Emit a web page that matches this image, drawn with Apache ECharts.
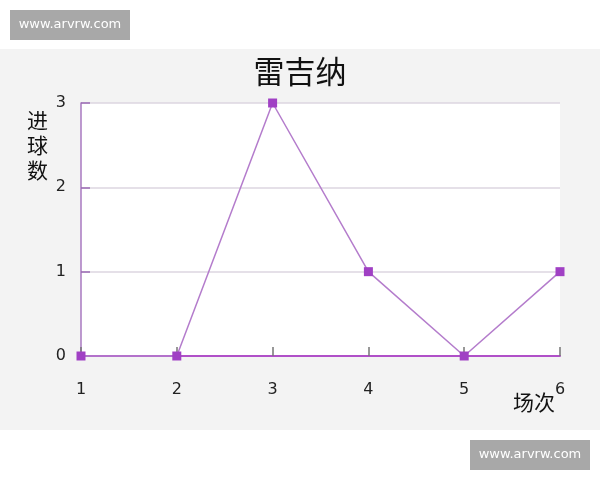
<!DOCTYPE html>
<html>
<head>
<meta charset="utf-8">
<script src="https://cdn.jsdelivr.net/npm/echarts@6/dist/echarts.min.js"></script>
<style>
html,body{margin:0;padding:0;background:#fff;}
#c{width:600px;height:480px;}
</style>
</head>
<body>
<div id="c"></div>
<script>
const titleText = '雷吉纳';
const xName = '场次';
const yName = '进\n球\n数';
const matches = [1, 2, 3, 4, 5, 6];
const goals = [0, 0, 3, 1, 0, 1];
const watermark = 'www.arvrw.com';

const chart = echarts.init(document.getElementById('c'));
const font = 'DejaVu Sans, Liberation Sans, sans-serif';
const cjk = '"Noto Sans CJK SC", sans-serif';

chart.setOption({
  backgroundColor: '#ffffff',
  animation: false,
  graphic: [
    { type: 'rect', z: -10, shape: { x: 0, y: 49, width: 600, height: 381 }, style: { fill: '#f3f3f3' } },
    { type: 'rect', shape: { x: 10, y: 10, width: 120, height: 30 }, style: { fill: '#a8a8a8' } },
    { type: 'text', x: 70, y: 25, style: { text: watermark, fill: '#ffffff', font: '13px "DejaVu Sans", sans-serif', align: 'center', verticalAlign: 'middle' } },
    { type: 'rect', shape: { x: 470, y: 440, width: 120, height: 30 }, style: { fill: '#a8a8a8' } },
    { type: 'text', x: 530, y: 455, style: { text: watermark, fill: '#ffffff', font: '13px "DejaVu Sans", sans-serif', align: 'center', verticalAlign: 'middle' } }
  ],
  title: {
    text: titleText,
    left: 'center',
    top: 51,
    textStyle: { fontFamily: cjk, fontSize: 31, fontWeight: 'normal', color: '#111' }
  },
  grid: {
    left: 81, right: 40, top: 103, bottom: 124,
    outerBoundsMode: 'none',
    containLabel: false,
    show: true, backgroundColor: '#ffffff', borderWidth: 0
  },
  xAxis: {
    type: 'value', min: 1, max: 6, interval: 1,
    name: xName,
    nameLocation: 'end',
    nameGap: -5,
    nameMoveOverlap: false,
    nameTextStyle: { fontFamily: cjk, fontSize: 21, color: '#111', align: 'right', verticalAlign: 'top', padding: [36, 0, 0, 0] },
    axisLine: { show: true, lineStyle: { color: '#b050c8', width: 2 } },
    axisTick: { show: true, inside: true, length: 9, lineStyle: { color: '#777', width: 1.5 } },
    axisLabel: { margin: 26, fontFamily: font, fontSize: 16, color: '#222' },
    splitLine: { show: false }
  },
  yAxis: {
    type: 'value', min: 0, max: 3, interval: 1,
    name: yName,
    nameLocation: 'end',
    nameGap: -80,
    nameMoveOverlap: false,
    nameTextStyle: { fontFamily: cjk, fontSize: 21, lineHeight: 25, color: '#111', align: 'right', verticalAlign: 'bottom', padding: [0, 33, 0, 0] },
    axisLine: { show: true, lineStyle: { color: '#a878c0', width: 1.5 } },
    axisTick: { show: true, inside: true, length: 9, lineStyle: { color: '#9a6ab4', width: 1.5 } },
    axisLabel: { margin: 15, fontFamily: font, fontSize: 16, color: '#222' },
    splitLine: { show: true, lineStyle: { color: '#dcd6e0', width: 1.5 } }
  },
  series: [{
    type: 'line',
    data: matches.map((m, i) => [m, goals[i]]),
    symbol: 'rect',
    symbolSize: 9,
    clip: false,
    lineStyle: { color: '#b47ccc', width: 1.5 },
    itemStyle: { color: '#a040c4' }
  }]
});
</script>
</body>
</html>
